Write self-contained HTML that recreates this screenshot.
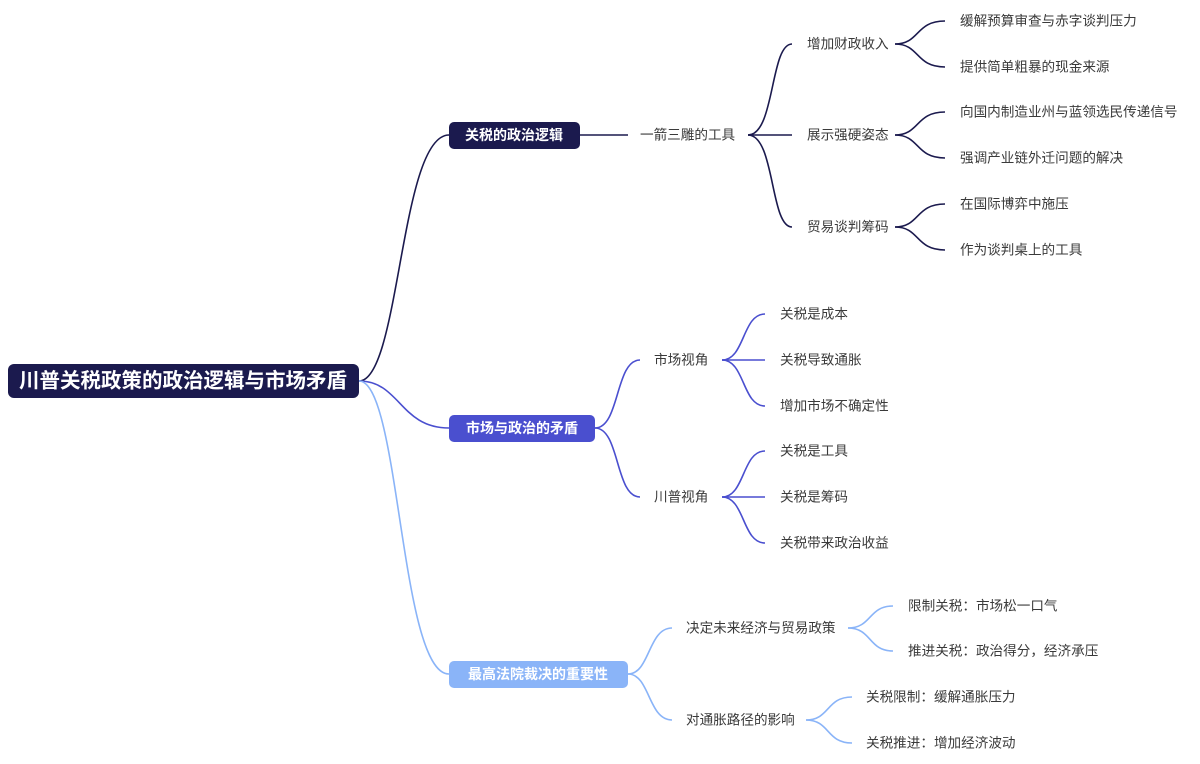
<!DOCTYPE html>
<html><head><meta charset="utf-8"><style>
html,body{margin:0;padding:0;background:#fff;}
svg{display:block}
text{font-family:"Liberation Sans","Noto Sans CJK SC",sans-serif;}
.t{font-size:13.6px;fill:#3a3a3a;dominant-baseline:central}
.b{font-size:14px;fill:#fff;font-weight:bold;dominant-baseline:central}
</style></head><body>
<svg width="1200" height="764" viewBox="0 0 1200 764" xmlns="http://www.w3.org/2000/svg">
<g fill="none" stroke-width="1.6">
<path d="M359 381 C400 381 400 135 449 135" stroke="#1b1a4e"/>
<path d="M359 381 C400 381 400 428 449 428" stroke="#4a4fcf"/>
<path d="M359 381 C400 381 400 674 449 674" stroke="#8ab4f8"/>
<g stroke="#1b1a4e">
<path d="M580 135 L628 135"/>
<path d="M748 135 C775 135 770 44 792 44"/>
<path d="M748 135 L792 135"/>
<path d="M748 135 C775 135 770 227 792 227"/>
<path d="M895 44 C920 44 915 21 945 21"/>
<path d="M895 44 C920 44 915 67 945 67"/>
<path d="M895 135 C920 135 915 112 945 112"/>
<path d="M895 135 C920 135 915 158 945 158"/>
<path d="M895 227 C920 227 915 204 945 204"/>
<path d="M895 227 C920 227 915 250 945 250"/>
</g>
<g stroke="#4a4fcf">
<path d="M595 428 C620 428 615 360 640 360"/>
<path d="M595 428 C620 428 615 497 640 497"/>
<path d="M722 360 C745 360 742 314 765 314"/>
<path d="M722 360 L765 360"/>
<path d="M722 360 C745 360 742 406 765 406"/>
<path d="M722 497 C745 497 742 451 765 451"/>
<path d="M722 497 L765 497"/>
<path d="M722 497 C745 497 742 543 765 543"/>
</g>
<g stroke="#8ab4f8">
<path d="M628 674 C650 674 648 628 672 628"/>
<path d="M628 674 C650 674 648 720 672 720"/>
<path d="M848 628 C872 628 868 606 893 606"/>
<path d="M848 628 C872 628 868 651 893 651"/>
<path d="M806 720 C830 720 826 697 852 697"/>
<path d="M806 720 C830 720 826 743 852 743"/>
</g>
</g>
<rect x="8" y="364" width="351" height="34" rx="6" fill="#1b1a4e"/>
<text x="183" y="381" text-anchor="middle" style="font-size:20.5px;font-weight:bold;fill:#fff;dominant-baseline:central">川普关税政策的政治逻辑与市场矛盾</text>
<rect x="449" y="122" width="131" height="27" rx="5" fill="#1b1a4e"/>
<text class="b" x="514" y="135" text-anchor="middle">关税的政治逻辑</text>
<rect x="449" y="415" width="146" height="27" rx="5" fill="#4a4fcf"/>
<text class="b" x="522" y="428" text-anchor="middle">市场与政治的矛盾</text>
<rect x="449" y="661" width="179" height="27" rx="5" fill="#8ab4f8"/>
<text class="b" x="538" y="674" text-anchor="middle">最高法院裁决的重要性</text>
<text class="t" x="640" y="135">一箭三雕的工具</text>
<text class="t" x="807" y="44">增加财政收入</text>
<text class="t" x="807" y="135">展示强硬姿态</text>
<text class="t" x="807" y="227">贸易谈判筹码</text>
<text class="t" x="960" y="21">缓解预算审查与赤字谈判压力</text>
<text class="t" x="960" y="67">提供简单粗暴的现金来源</text>
<text class="t" x="960" y="112">向国内制造业州与蓝领选民传递信号</text>
<text class="t" x="960" y="158">强调产业链外迁问题的解决</text>
<text class="t" x="960" y="204">在国际博弈中施压</text>
<text class="t" x="960" y="250">作为谈判桌上的工具</text>
<text class="t" x="654" y="360">市场视角</text>
<text class="t" x="654" y="497">川普视角</text>
<text class="t" x="780" y="314">关税是成本</text>
<text class="t" x="780" y="360">关税导致通胀</text>
<text class="t" x="780" y="406">增加市场不确定性</text>
<text class="t" x="780" y="451">关税是工具</text>
<text class="t" x="780" y="497">关税是筹码</text>
<text class="t" x="780" y="543">关税带来政治收益</text>
<text class="t" x="686" y="628">决定未来经济与贸易政策</text>
<text class="t" x="686" y="720">对通胀路径的影响</text>
<text class="t" x="908" y="606">限制关税：市场松一口气</text>
<text class="t" x="908" y="651">推进关税：政治得分，经济承压</text>
<text class="t" x="866" y="697">关税限制：缓解通胀压力</text>
<text class="t" x="866" y="743">关税推进：增加经济波动</text>
</svg>
</body></html>
